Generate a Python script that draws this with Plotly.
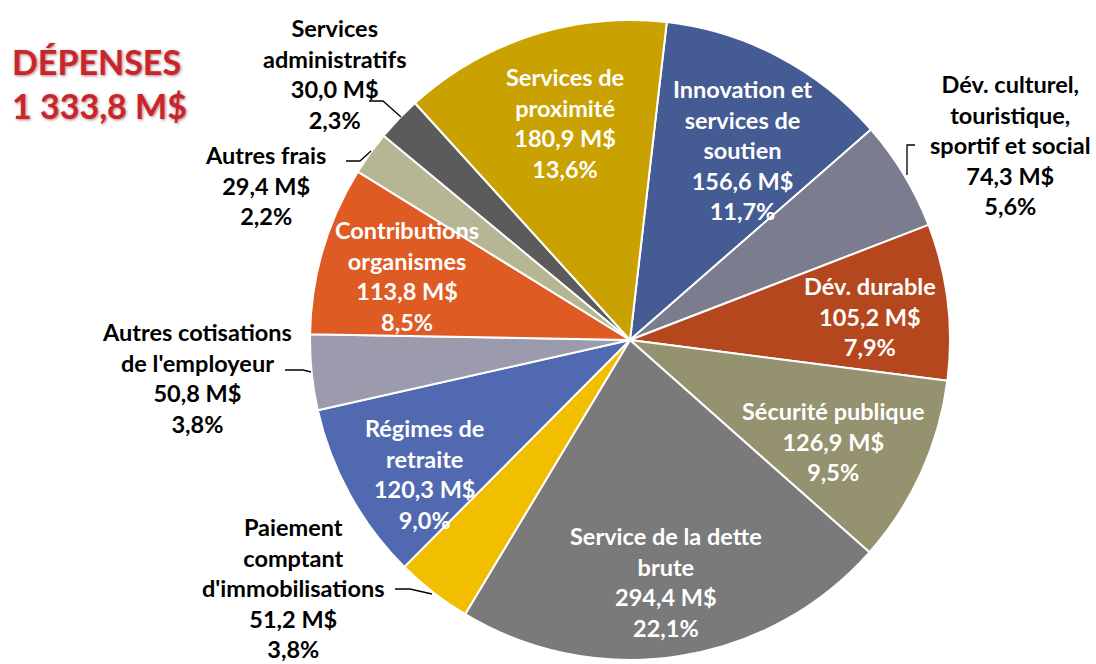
import plotly.graph_objects as go

categories = ["Innovation et services de soutien", "Dév. culturel, touristique, sportif et social",
              "Dév. durable", "Sécurité publique", "Service de la dette brute",
              "Paiement comptant d'immobilisations", "Régimes de retraite",
              "Autres cotisations de l'employeur", "Contributions organismes",
              "Autres frais", "Services administratifs", "Services de proximité"]
values = [156.6, 74.3, 105.2, 126.9, 294.4, 51.2, 120.3, 50.8, 113.8, 29.4, 30.0, 180.9]
percents = ["11,7%", "5,6%", "7,9%", "9,5%", "22,1%", "3,8%", "9,0%", "3,8%", "8,5%", "2,2%", "2,3%", "13,6%"]
amounts = ["156,6 M$", "74,3 M$", "105,2 M$", "126,9 M$", "294,4 M$", "51,2 M$", "120,3 M$",
           "50,8 M$", "113,8 M$", "29,4 M$", "30,0 M$", "180,9 M$"]
label_lines = [["Innovation et", "services de", "soutien"],
               ["Dév. culturel,", "touristique,", "sportif et social"],
               ["Dév. durable"], ["Sécurité publique"], ["Service de la dette", "brute"],
               ["Paiement", "comptant", "d'immobilisations"], ["Régimes de", "retraite"],
               ["Autres cotisations", "de l'employeur"], ["Contributions", "organismes"],
               ["Autres frais"], ["Services", "administratifs"], ["Services de", "proximité"]]
colors = ["#445B93", "#7B7C8E", "#B5471E", "#94926F", "#7A7A7A", "#F2BE00", "#5069B0",
          "#9B9BAD", "#DF5B24", "#B6B594", "#5B5B5B", "#C9A100"]
# label centre (px) and text colour
label_pos = [(742, 150), (1010, 145), (870, 317), (833, 441), (666, 582), (293, 588),
             (424, 474), (197, 378), (407, 276), (265, 185), (335, 74), (565, 123)]
label_white = [True, False, True, True, True, False, True, False, True, False, False, True]
leaders = {1: [(915, 145), (907, 145), (907, 175)],
           5: [(395, 589), (410, 589), (432, 594)],
           7: [(285, 370), (303, 370), (311, 372)],
           9: [(346, 161), (360, 161), (371, 151)],
           10: [(369, 101), (383, 101), (401, 117)]}

W, H = 1096, 664
cx, cy, R = 630, 340, 320
FONT = "Lato"

fig = go.Figure(go.Pie(
    labels=categories, values=values, sort=False, direction="clockwise", rotation=6.6,
    marker=dict(colors=colors, line=dict(color="white", width=2)),
    textinfo="none", hoverinfo="label+value+percent", showlegend=False,
    domain=dict(x=[(cx - R) / W, (cx + R) / W], y=[1 - (cy + R) / H, 1 - (cy - R) / H]),
))

annotations = []
for i, (x, y) in enumerate(label_pos):
    txt = "<br>".join(label_lines[i] + [amounts[i], percents[i]])
    annotations.append(dict(
        x=x / W, y=1 - y / H, xref="paper", yref="paper", text=txt, showarrow=False,
        xanchor="center", yanchor="middle", align="center",
        font=dict(family=FONT, size=23.5, color="white" if label_white[i] else "black",
                  weight="bold"),
    ))

annotations.append(dict(
    x=10 / W, y=1 - 83 / H, xref="paper", yref="paper",
    text="DÉPENSES<br>1 333,8 M$", showarrow=False, xanchor="left", yanchor="middle",
    align="left", font=dict(family=FONT, size=34, color="#C9252C", weight="bold",
                            shadow="1px 1px 3px rgba(90,0,0,0.5)"),
))

shapes = []
for pts in leaders.values():
    path = "M " + " L ".join(f"{px / W},{1 - py / H}" for px, py in pts)
    shapes.append(dict(type="path", xref="paper", yref="paper", path=path,
                       line=dict(color="black", width=1.3)))

fig.update_layout(width=W, height=H, margin=dict(l=0, r=0, t=0, b=0),
                  paper_bgcolor="white", plot_bgcolor="white",
                  annotations=annotations, shapes=shapes)
fig.write_html("out.html", config={"displayModeBar": False},
               post_script="document.body.style.margin='0';document.body.style.padding='0';")
